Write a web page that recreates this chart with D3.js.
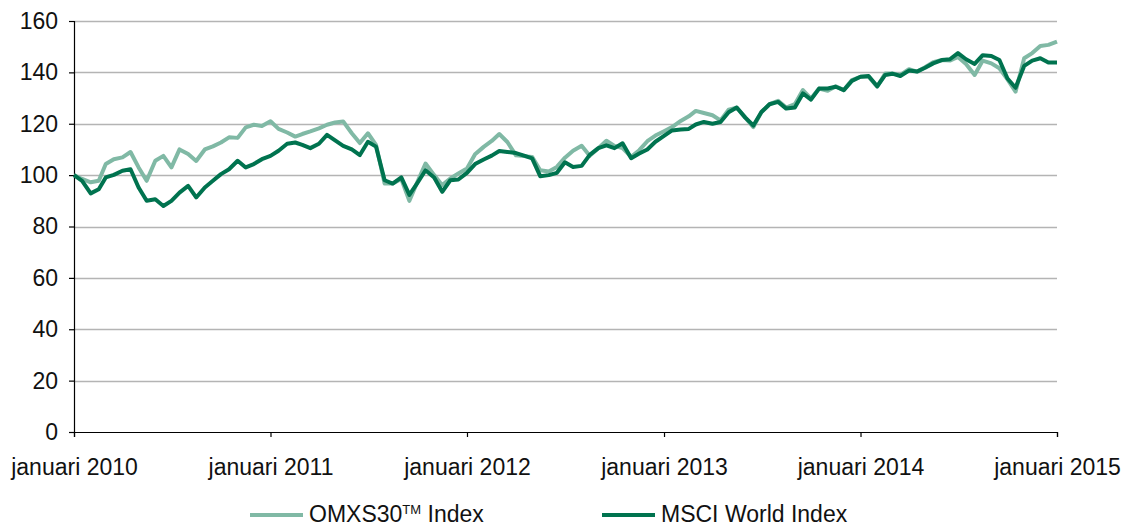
<!DOCTYPE html>
<html>
<head>
<meta charset="utf-8">
<script src="https://cdn.jsdelivr.net/npm/d3@7"></script>
<style>
	html, body { margin: 0; padding: 0; background: #fff; }
	svg { display: block; font-family: 'Liberation Sans', Arial, Helvetica, sans-serif; }
</style>
</head>
<body>
<script>
// half-monthly readings, 1 jan 2010 .. 1 jan 2015 (index = 100 at start)
const omxs30 = [
	100, 98.5, 97.2, 97.8, 104.3, 106.2, 106.9, 109, 103, 97.8, 105.6, 107.5, 103, 110, 108.2, 105.5, 110, 111.2, 112.7, 114.7, 114.5, 118.6, 119.6, 119.1,
	121, 118, 116.6, 115, 116, 117, 118.2, 119.6, 120.5, 120.9, 116.3, 112.5, 116.3, 111.8, 96.7, 96.7, 98.5, 90, 97.4, 104.5, 100, 96.1, 98.7, 100.6,
	102.6, 108.1, 111, 113.3, 116, 112.9, 107.7, 107.4, 107.1, 101.9, 101.4, 103.2, 106.8, 109.5, 111.4, 107.5, 110.5, 113.4, 111.4, 110.5, 107.1, 109.7, 113.2, 115.4,
	117.1, 118.7, 121.1, 122.9, 125, 124.2, 123.3, 121.3, 125.5, 126.3, 122.4, 118.7, 124.6, 127.6, 128.9, 126.3, 127.6, 133.1, 129.8, 133.7, 132.8, 134.6, 133.1, 137,
	138.3, 138.3, 134.4, 139.6, 139.6, 139, 141.2, 140.3, 142, 144, 144.8, 144.6, 146, 143.3, 139, 144.6, 143.5, 141.6, 137.3, 132.5, 145.5, 147.5, 150.3, 150.7,
	152,
];
const msciWorld = [
	100, 97.8, 92.9, 94.5, 99.1, 100.1, 101.7, 102.3, 95.2, 90, 90.6, 88, 90, 93.2, 95.8, 91.3, 95.2, 97.8, 100.4, 102.3, 105.6, 103, 104.3, 106.2,
	107.5, 109.5, 112.2, 112.7, 111.8, 110.5, 112.2, 115.7, 113.5, 111.4, 110, 107.8, 113, 111.1, 98, 96.7, 99.1, 92.3, 97, 101.9, 99.1, 93.5, 98, 98.3,
	100.9, 104.3, 106.1, 107.6, 109.4, 109, 108.6, 107.6, 106.5, 99.6, 100, 100.9, 105, 103.2, 103.6, 107.9, 110.5, 111.6, 110.5, 112.4, 106.6, 108.4, 110, 113,
	115.3, 117.4, 117.8, 118, 119.7, 120.7, 120, 120.7, 124.5, 126.3, 122.4, 119.3, 124.6, 127.6, 128.5, 125.9, 126.3, 131.8, 129.4, 133.7, 133.7, 134.4, 133.1, 136.7,
	138.3, 138.6, 134.6, 139, 139.5, 138.6, 140.7, 140.3, 141.8, 143.5, 144.8, 145.1, 147.5, 145.1, 143.3, 146.7, 146.4, 144.8, 137.6, 134, 142.5, 144.6, 145.5, 143.8,
	143.8,
];
const yTicks = [0, 20, 40, 60, 80, 100, 120, 140, 160];
const xTickYears = [2010, 2011, 2012, 2013, 2014, 2015];
const seriesNames = ['OMXS30', 'MSCI World Index'];

// dates: 1st and 16th of each month
const dates = omxs30.map((_, i) => new Date(2010 + Math.floor(i / 24), Math.floor(i / 2) % 12, i % 2 ? 16 : 1));

const width = 1123;
const height = 527;
const margin = { top: 21, right: 66, bottom: 95, left: 74 };
const lightGreen = '#80b9a5';
const darkGreen = '#00734f';

const x = d3
	.scaleTime()
	.domain([new Date(2010, 0, 1), new Date(2015, 0, 1)])
	.range([margin.left, width - margin.right]);
const y = d3
	.scaleLinear()
	.domain([0, 160])
	.range([height - margin.bottom, margin.top]);

const svg = d3.select('body').append('svg').attr('width', width).attr('height', height);

// gridlines
svg.append('g')
	.selectAll('line')
	.data(yTicks.filter((d) => d > 0))
	.join('line')
	.attr('x1', margin.left)
	.attr('x2', width - margin.right)
	.attr('y1', (d) => Math.round(y(d)) + 0.5)
	.attr('y2', (d) => Math.round(y(d)) + 0.5)
	.attr('stroke', '#b4b4b4')
	.attr('stroke-width', 1.3);

// axes
const yAxis = svg
	.append('g')
	.attr('transform', `translate(${margin.left},0)`)
	.call(d3.axisLeft(y).tickValues(yTicks).tickSize(5).tickPadding(11));
const xAxis = svg
	.append('g')
	.attr('transform', `translate(0,${height - margin.bottom})`)
	.call(
		d3
			.axisBottom(x)
			.tickValues(xTickYears.map((yr) => new Date(yr, 0, 1)))
			.tickFormat((d) => 'januari ' + d.getFullYear())
			.tickSize(5)
			.tickPadding(22)
	);
for (const ax of [yAxis, xAxis]) {
	ax.select('.domain').attr('stroke', '#000').attr('stroke-width', 1.2);
	ax.selectAll('.tick line').attr('stroke', '#000').attr('stroke-width', 1.2);
	ax.selectAll('.tick text').attr('fill', '#111').style('font-size', '23px').style('font-family', 'Liberation Sans, Arial, sans-serif');
}

// lines
const line = (values) =>
	d3
		.line()
		.x((d, i) => x(dates[i]))
		.y((d) => y(d))(values);

svg.append('path')
	.attr('d', line(omxs30))
	.attr('fill', 'none')
	.attr('stroke', lightGreen)
	.attr('stroke-width', 4)
	.attr('stroke-linejoin', 'round');
svg.append('path')
	.attr('d', line(msciWorld))
	.attr('fill', 'none')
	.attr('stroke', darkGreen)
	.attr('stroke-width', 4)
	.attr('stroke-linejoin', 'round');

// legend, sitting right on the bottom edge
const legend = svg.append('g').style('font-size', '23px').attr('fill', '#111');
const items = [
	{ name: seriesNames[0], color: lightGreen, x: 250 },
	{ name: seriesNames[1], color: darkGreen, x: 602 },
];
for (const it of items) {
	legend.append('line')
		.attr('x1', it.x)
		.attr('x2', it.x + 53)
		.attr('y1', 515)
		.attr('y2', 515)
		.attr('stroke', it.color)
		.attr('stroke-width', 4);
	const t = legend.append('text').attr('x', it.x + 59).attr('y', 522);
	t.append('tspan').text(it.name);
	if (it.name === 'OMXS30') {
		t.append('tspan').attr('dy', -8).style('font-size', '13px').text('TM');
		t.append('tspan').attr('dy', 8).text(' Index');
	}
}
</script>
</body>
</html>
